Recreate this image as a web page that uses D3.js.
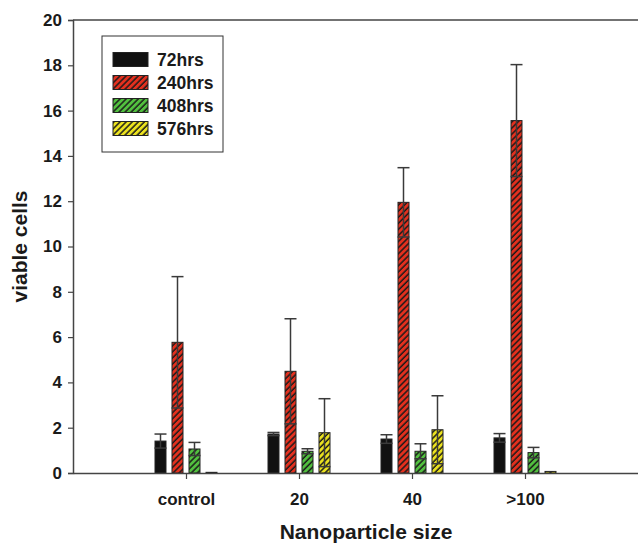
<!DOCTYPE html>
<html>
<head>
<meta charset="utf-8">
<script src="https://cdn.jsdelivr.net/npm/d3@7"></script>
<style>
  body { margin: 0; background: #fff; }
  svg text { font-family: "Liberation Sans", Arial, sans-serif; font-weight: bold; fill: #1a1a1a; }
</style>
</head>
<body>
<div id="chart"></div>
<script>
// categories and series
var categories = ["control", "20", "40", ">100"];
var seriesNames = ["72hrs", "240hrs", "408hrs", "576hrs"];

// mean values per series (one entry per category)
var hrs72  = [1.41, 1.72, 1.50, 1.55];
var hrs240 = [5.77, 4.49, 11.95, 15.56];
var hrs408 = [1.06, 0.96, 0.96, 0.90];
var hrs576 = [0.03, 1.78, 1.91, 0.07];

// error (+/-) per series
var err72  = [0.31, 0.07, 0.19, 0.19];
var err240 = [2.90, 2.32, 1.53, 2.47];
var err408 = [0.29, 0.11, 0.33, 0.23];
var err576 = [0, 1.50, 1.50, 0];

var yTicks = [0, 2, 4, 6, 8, 10, 12, 14, 16, 18, 20];

var fills = ["#111111", "#e5301e", "#52c13f", "#ece31f"];
var hatched = [false, true, true, true];

var W = 638, H = 545;
var margin = {top: 20, right: 0, bottom: 72, left: 73};

var svg = d3.select("#chart").append("svg")
    .attr("width", W)
    .attr("height", H);

// hatch patterns
var defs = svg.append("defs");
fills.forEach(function(c, i){
    if (!hatched[i]) return;
    var p = defs.append("pattern")
        .attr("id", "hatch" + i)
        .attr("patternUnits", "userSpaceOnUse")
        .attr("width", 4.3)
        .attr("height", 4.3)
        .attr("patternTransform", "rotate(45)");
    p.append("rect").attr("width", 4.3).attr("height", 4.3).attr("fill", c);
    p.append("line")
        .attr("x1", 1).attr("y1", 0).attr("x2", 1).attr("y2", 4.3)
        .attr("stroke", "#1a1a1a").attr("stroke-width", 1.5);
});
function fillFor(i){ return hatched[i] ? "url(#hatch" + i + ")" : fills[i]; }

var x = d3.scaleLinear().domain([0, categories.length + 1]).range([margin.left, W - margin.right]);
var y = d3.scaleLinear().domain([0, 20]).range([H - margin.bottom, margin.top]);
var inner = d3.scaleBand().domain(seriesNames).range([-31, 31]).paddingInner(0.353).paddingOuter(0);

var means = [hrs72, hrs240, hrs408, hrs576];
var errs = [err72, err240, err408, err576];

var rows = [];
seriesNames.forEach(function(s, si){
    categories.forEach(function(c, ci){
        rows.push({series: s, si: si, cat: c, ci: ci, v: means[si][ci], e: errs[si][ci]});
    });
});

// top frame line
svg.append("line")
    .attr("x1", margin.left).attr("x2", W)
    .attr("y1", y(20)).attr("y2", y(20))
    .attr("stroke", "#444").attr("stroke-width", 1.5);

// bars
svg.append("g").selectAll("rect")
    .data(rows)
    .enter()
    .append("rect")
    .attr("x", function(d){ return x(d.ci + 1) + inner(d.series); })
    .attr("y", function(d){ return y(d.v); })
    .attr("width", inner.bandwidth())
    .attr("height", function(d){ return y(0) - y(d.v); })
    .attr("fill", function(d){ return fillFor(d.si); })
    .attr("stroke", "#222")
    .attr("stroke-width", 1);

// error bars
var eg = svg.append("g").attr("stroke", "#3a3a3a").attr("stroke-width", 1.5);
var withErr = rows.filter(function(d){ return d.e > 0; });
eg.selectAll("line.v")
    .data(withErr)
    .enter()
    .append("line")
    .attr("class", "v")
    .attr("x1", function(d){ return x(d.ci + 1) + inner(d.series) + inner.bandwidth() / 2; })
    .attr("x2", function(d){ return x(d.ci + 1) + inner(d.series) + inner.bandwidth() / 2; })
    .attr("y1", function(d){ return y(d.v - d.e); })
    .attr("y2", function(d){ return y(d.v + d.e); });
[1, -1].forEach(function(sign){
    eg.selectAll("line.cap" + sign)
        .data(withErr)
        .enter()
        .append("line")
        .attr("x1", function(d){ return x(d.ci + 1) + inner(d.series) - 0.5; })
        .attr("x2", function(d){ return x(d.ci + 1) + inner(d.series) + inner.bandwidth() + 0.5; })
        .attr("y1", function(d){ return y(d.v + sign * d.e); })
        .attr("y2", function(d){ return y(d.v + sign * d.e); });
});

// y axis
var yAxis = svg.append("g")
    .attr("transform", "translate(" + margin.left + ",0)")
    .call(d3.axisLeft(y).tickValues(yTicks).tickSize(5).tickPadding(6));
yAxis.select(".domain").attr("stroke", "#444").attr("stroke-width", 1.5);
yAxis.selectAll(".tick line").attr("stroke", "#444").attr("stroke-width", 1.2);
yAxis.selectAll("text").style("font-size", "17px").attr("fill", "#1a1a1a");

// x axis
var xAxis = svg.append("g")
    .attr("transform", "translate(0," + y(0) + ")")
    .call(d3.axisBottom(x)
        .tickValues(d3.range(1, categories.length + 1))
        .tickFormat(function(d){ return categories[d - 1]; })
        .tickSize(6).tickSizeOuter(0).tickPadding(14));
xAxis.select(".domain").attr("stroke", "#444").attr("stroke-width", 1.5);
xAxis.selectAll(".tick line").attr("stroke", "#444").attr("stroke-width", 1.2);
xAxis.selectAll("text").style("font-size", "17px").attr("fill", "#1a1a1a");

// axis titles
svg.append("text")
    .attr("transform", "translate(27," + ((y(0) + y(20)) / 2) + ") rotate(-90)")
    .attr("text-anchor", "middle")
    .style("font-size", "21px")
    .text("viable cells");

svg.append("text")
    .attr("x", 366)
    .attr("y", 539)
    .attr("text-anchor", "middle")
    .style("font-size", "21px")
    .text("Nanoparticle size");

// legend
var lg = svg.append("g").attr("transform", "translate(102,36)");
lg.append("rect")
    .attr("width", 121).attr("height", 116)
    .attr("fill", "#fff").attr("stroke", "#333").attr("stroke-width", 1);
var items = lg.selectAll("g.item")
    .data(seriesNames)
    .enter()
    .append("g")
    .attr("transform", function(d, i){ return "translate(11," + (16.5 + i * 23) + ")"; });
items.append("rect")
    .attr("width", 35).attr("height", 14)
    .attr("fill", function(d, i){ return fillFor(i); })
    .attr("stroke", "#222").attr("stroke-width", 1);
items.append("text")
    .attr("x", 44).attr("y", 13)
    .style("font-size", "17.5px")
    .text(function(d){ return d; });
</script>
</body>
</html>
